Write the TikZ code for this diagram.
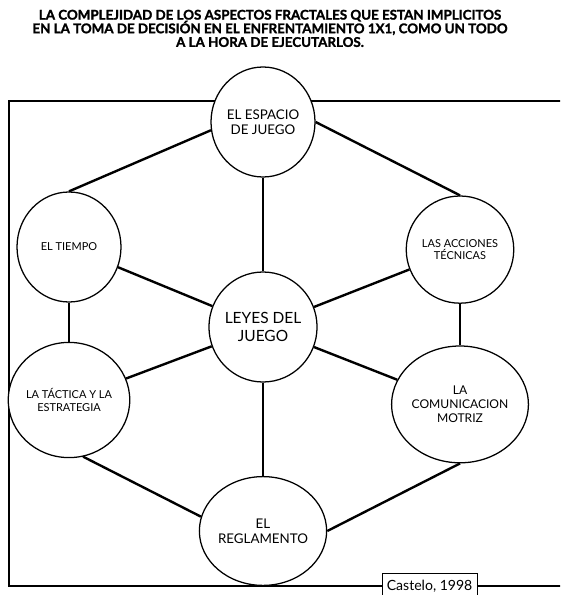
\documentclass[tikz,border=0pt]{standalone}
\usepackage{fontspec}
\setmainfont{Lato}
\newfontfamily\heavyfont{Lato}[BoldFeatures={FakeBold=1.6}]
\newcommand\titlefont{\heavyfont\bfseries\fontsize{9.5}{9.7}\selectfont\lineskiplimit=-6pt\relax}
\usepackage{tikz}
\usetikzlibrary{shapes}

\begin{document}
\begin{tikzpicture}[
	blob/.style={ellipse,draw,line width=0.9pt,fill=white,inner sep=0pt,
		minimum width=2.6cm,minimum height=2.75cm,align=center},
	link/.style={line width=1.7pt}]

		\useasboundingbox (0,0) rectangle (14,-14.875);
		\clip (0,0) rectangle (14,-14.875);

		\node[align=center,font=\titlefont] (title) at (6.75,-0.71)
			{LA COMPLEJIDAD DE LOS ASPECTOS FRACTALES QUE ESTAN IMPLICITOS\\
			 EN LA TOMA DE DECISIÓN EN EL ENFRENTAMIENTO 1X1, COMO UN TODO\\
			 A LA HORA DE EJECUTARLOS.};

		\draw[line width=1.4pt] (0.225,-2.525) rectangle (14.3,-14.65);

		\node[blob,font=\fontsize{9.5}{11}\selectfont] (espacio) at (6.575,-3.05) {EL ESPACIO\\DE JUEGO};
		\node[blob,font=\fontsize{7.8}{9}\selectfont] (tiempo) at (1.725,-6.175) {EL TIEMPO};
		\node[blob,font=\fontsize{7.8}{9}\selectfont,minimum height=2.68cm] (acciones) at (11.5,-6.24) {LAS ACCIONES\\TÉCNICAS};
		\node[blob,font=\fontsize{11}{12.5}\selectfont,minimum width=2.55cm] (leyes) at (6.575,-8.175) {LEYES DEL\\JUEGO};
		\node[blob,font=\fontsize{7.8}{9}\selectfont,minimum height=2.88cm] (tactica) at (1.725,-10.0) {LA TÁCTICA Y LA\\ESTRATEGIA};
		\node[blob,font=\fontsize{8.6}{10}\selectfont,minimum width=2.72cm,minimum height=2.92cm] (comunic) at (11.5,-10.11) {LA\\COMUNICACION\\MOTRIZ};
		\node[blob,font=\fontsize{9.5}{11}\selectfont,minimum height=2.72cm] (reglamento) at (6.575,-13.275) {EL\\REGLAMENTO};

		\node[draw,fill=white,line width=0.7pt,minimum width=2.375cm,minimum height=0.8cm,
			anchor=north] (castelo) at (10.74,-14.325) {};
		\node[font=\fontsize{10}{11}\selectfont] (fuente) at (10.74,-14.66) {Castelo, 1998};

		\path[link] (espacio.189) edge (tiempo.north);
		\path[link] (espacio.east) edge (acciones.north);
		\path[link] (espacio) edge (leyes);
		\path[link] (tiempo) edge (leyes);
		\path[link] (acciones) edge (leyes);
		\path[link] (tactica) edge (leyes);
		\path[link] (comunic) edge (leyes);
		\path[link] (leyes) edge (reglamento);
		\path[link] (tiempo) edge (tactica);
		\path[link] (acciones) edge (comunic);
		\path[link] (tactica.-76) edge (reglamento.167);
		\path[link] (comunic.south) edge (reglamento.east);

	\end{tikzpicture}
\end{document}
